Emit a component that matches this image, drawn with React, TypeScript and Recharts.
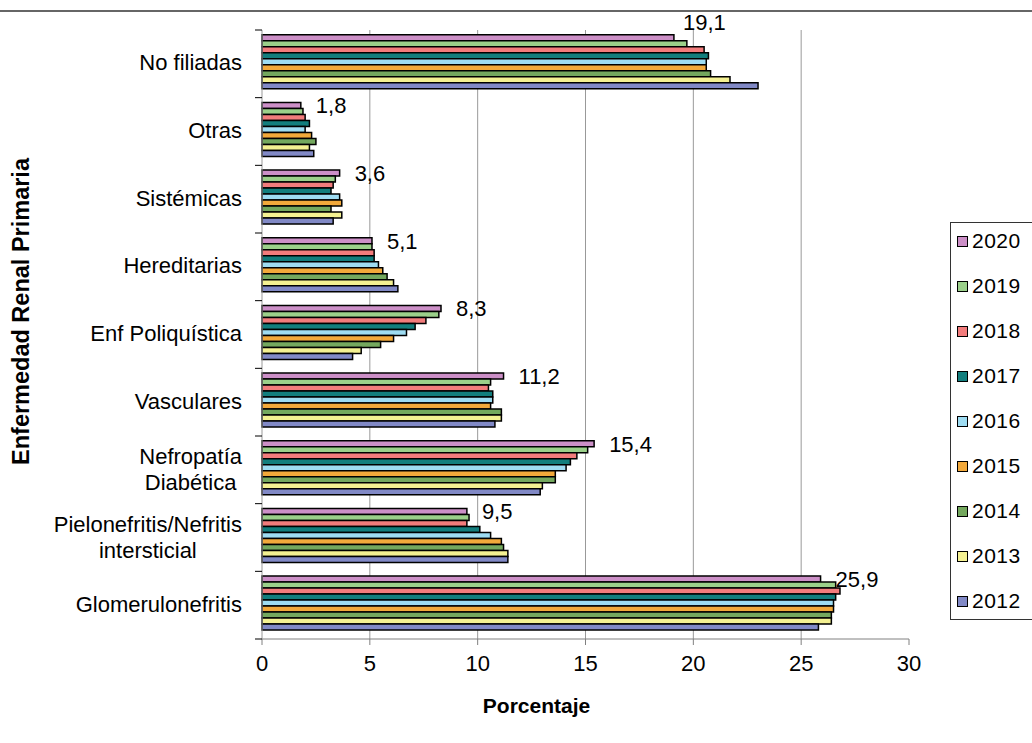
import React from 'react';
import { BarChart, Bar, XAxis, YAxis, CartesianGrid, Legend, LabelList } from 'recharts';

const categories = [
  'No filiadas',
  'Otras',
  'Sistémicas',
  'Hereditarias',
  'Enf Poliquística',
  'Vasculares',
  'Nefropatía\nDiabética',
  'Pielonefritis/Nefritis\nintersticial',
  'Glomerulonefritis',
];

const years = ['2020', '2019', '2018', '2017', '2016', '2015', '2014', '2013', '2012'];

const v2020 = [19.1, 1.8, 3.6, 5.1, 8.3, 11.2, 15.4, 9.5, 25.9];
const v2019 = [19.7, 1.9, 3.4, 5.1, 8.2, 10.6, 15.1, 9.6, 26.6];
const v2018 = [20.5, 2.0, 3.3, 5.2, 7.6, 10.5, 14.6, 9.5, 26.8];
const v2017 = [20.7, 2.2, 3.2, 5.2, 7.1, 10.7, 14.3, 10.1, 26.6];
const v2016 = [20.6, 2.0, 3.6, 5.4, 6.7, 10.7, 14.1, 10.6, 26.5];
const v2015 = [20.6, 2.3, 3.7, 5.6, 6.1, 10.6, 13.6, 11.1, 26.5];
const v2014 = [20.8, 2.5, 3.2, 5.8, 5.5, 11.1, 13.6, 11.2, 26.4];
const v2013 = [21.7, 2.2, 3.7, 6.1, 4.6, 11.1, 13.0, 11.4, 26.4];
const v2012 = [23.0, 2.4, 3.3, 6.3, 4.2, 10.8, 12.9, 11.4, 25.8];

const xTicks = [0, 5, 10, 15, 20, 25, 30];
const gridValues = [5, 10, 15, 20, 25];

const valuesByYear: Record<string, number[]> = {
  '2020': v2020, '2019': v2019, '2018': v2018, '2017': v2017, '2016': v2016,
  '2015': v2015, '2014': v2014, '2013': v2013, '2012': v2012,
};

const colors: Record<string, string> = {
  '2020': '#CC8FC7',
  '2019': '#9BD08A',
  '2018': '#F27C7C',
  '2017': '#127E7D',
  '2016': '#9EDCF2',
  '2015': '#F2A93B',
  '2014': '#74A85E',
  '2013': '#F4F192',
  '2012': '#8189C6',
};

const data = categories.map((name, i) => {
  const row: Record<string, any> = { name };
  years.forEach(y => { row[y] = valuesByYear[y][i]; });
  return row;
});

const FONT = '"Liberation Sans", Arial, sans-serif';
const W = 1032;
const H = 743;
const MARGIN = { top: 30, right: 123, left: 0, bottom: 64 };
const X_AXIS_H = 40;
const Y_AXIS_W = 262;
const TICK_MARGIN = 20;
const BAND = (H - MARGIN.top - MARGIN.bottom - X_AXIS_H) / categories.length;

let ctx: CanvasRenderingContext2D | null = null;
const measure = (s: string) => {
  if (!ctx) {
    ctx = document.createElement('canvas').getContext('2d');
    if (ctx) ctx.font = `22px ${FONT}`;
  }
  return ctx ? ctx.measureText(s).width : s.length * 10;
};

const CategoryTick = ({ x, y, payload, index }: any) => {
  const lines: string[] = String(payload.value).split('\n');
  const axisX = x + TICK_MARGIN;
  const half = BAND / 2;
  let textEl;
  if (lines.length === 1) {
    textEl = (
      <text x={x} y={y + 6.5} textAnchor="end" fontSize={22} fill="#000" fontFamily={FONT}>
        {lines[0]}
      </text>
    );
  } else {
    const maxW = Math.max(...lines.map(measure));
    const cx = x - maxW / 2;
    textEl = (
      <text textAnchor="middle" fontSize={22} fill="#000" fontFamily={FONT}>
        {lines.map((l, i) => (
          <tspan key={i} x={cx} y={y - 6 + i * 26}>{l}</tspan>
        ))}
      </text>
    );
  }
  return (
    <g>
      {textEl}
      <line x1={axisX - 7} x2={axisX} y1={y - half} y2={y - half} stroke="#000" strokeWidth={1} />
      {index === categories.length - 1 && (
        <line x1={axisX - 7} x2={axisX} y1={y + half} y2={y + half} stroke="#000" strokeWidth={1} />
      )}
    </g>
  );
};

const ValueLabel = (props: any) => {
  const { x, y, width, height, value, index } = props;
  const text = String(value).replace('.', ',');
  const endX = x + width;
  const cy = y + height / 2;
  // the first label sits above the bar end
  const tx = index === 0 ? endX + 9 : endX + 15;
  const ty = index === 0 ? cy - 16 + 8 : cy + 8;
  return (
    <text x={tx} y={ty} fontSize={22} fill="#000" fontFamily={FONT}>
      {text}
    </text>
  );
};

const LegendBox = ({ payload }: any) => {
  const items = [...(payload || [])].sort((a: any, b: any) => Number(b.value) - Number(a.value));
  return (
    <div
      style={{
        border: '1px solid #333',
        width: 100,
        height: 398,
        boxSizing: 'border-box',
        paddingTop: 10,
        paddingLeft: 6,
        background: '#fff',
        fontFamily: FONT,
      }}
    >
      {items.map((p: any, i: number) => (
        <div
          key={p.value}
          style={{ display: 'flex', alignItems: 'center', height: 16, marginTop: i === 0 ? 0 : 29 }}
        >
          <span
            style={{
              display: 'inline-block',
              width: 9,
              height: 9,
              background: p.color,
              border: '1px solid #000',
              marginRight: 4,
            }}
          />
          <span style={{ fontSize: 21, color: '#000', lineHeight: '16px', letterSpacing: 0.5 }}>{p.value}</span>
        </div>
      ))}
    </div>
  );
};

const YTitle = ({ viewBox }: any) => {
  const cx = viewBox.x + 21;
  const cy = viewBox.y + viewBox.height / 2 - 23;
  return (
    <text
      x={cx}
      y={cy}
      transform={`rotate(-90 ${cx} ${cy})`}
      textAnchor="middle"
      dominantBaseline="central"
      fontSize={23.5}
      fontWeight="bold"
      fill="#000"
      fontFamily={FONT}
    >
      Enfermedad Renal Primaria
    </text>
  );
};

const XTitle = ({ viewBox }: any) => {
  const cx = viewBox.x + viewBox.width / 2 - 49;
  return (
    <text x={cx} y={713} textAnchor="middle" fontSize={21} fontWeight="bold" fill="#000" fontFamily={FONT}>
      Porcentaje
    </text>
  );
};

export default function App() {
  return (
    <div
      style={{
        position: 'absolute',
        left: 0,
        top: 0,
        width: W,
        height: H,
        overflow: 'hidden',
        background: '#fff',
        fontFamily: FONT,
      }}
    >
      <div style={{ position: 'absolute', left: 0, top: 10, width: W, borderTop: '2px solid #666' }} />
      <BarChart
        width={W}
        height={H}
        data={data}
        layout="vertical"
        margin={MARGIN}
        barCategoryGap="7%"
        barGap={0}
      >
        <CartesianGrid horizontal={false} vertical verticalValues={gridValues} stroke="#999" />
        <XAxis
          type="number"
          domain={[0, 30]}
          ticks={xTicks}
          interval={0}
          height={X_AXIS_H}
          axisLine={{ stroke: '#808080' }}
          tickLine={{ stroke: '#808080' }}
          tickSize={6}
          tickMargin={10}
          tick={{ fontSize: 22, fill: '#000', fontFamily: FONT }}
          label={{ content: <XTitle /> }}
        />
        <YAxis
          type="category"
          dataKey="name"
          width={Y_AXIS_W}
          interval={0}
          axisLine={{ stroke: '#999' }}
          tickLine={false}
          tickSize={0}
          tickMargin={TICK_MARGIN}
          tick={<CategoryTick />}
          label={{ content: <YTitle /> }}
        />
        <Legend
          layout="vertical"
          align="center"
          verticalAlign="middle"
          wrapperStyle={{ left: 950, top: 222, width: 100 }}
          content={<LegendBox />}
        />
        {years.map(y => (
          <Bar
            key={y}
            dataKey={y}
            name={y}
            fill={colors[y]}
            stroke="#000"
            strokeWidth={1.5}
            isAnimationActive={false}
          >
            {y === '2020' && <LabelList dataKey={y} content={<ValueLabel />} />}
          </Bar>
        ))}
      </BarChart>
    </div>
  );
}
